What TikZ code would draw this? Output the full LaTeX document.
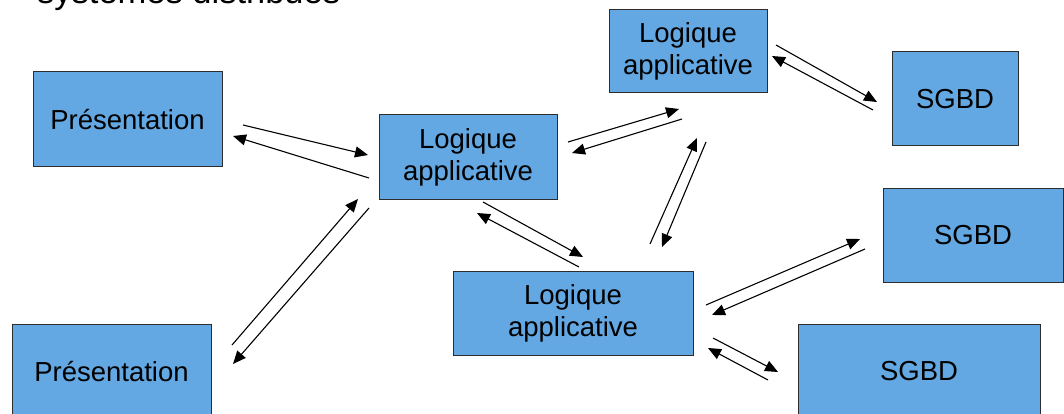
\documentclass[tikz,border=0pt]{standalone}
\usepackage{fontspec}
\setmainfont{Liberation Sans}
\usetikzlibrary{arrows.meta}
\definecolor{boxfill}{RGB}{99,168,226}
\definecolor{boxline}{RGB}{45,45,45}
\tikzset{
  tier/.style={draw=boxline, line width=1pt, fill=boxfill, inner sep=0pt, outer sep=0pt,
    align=center, font=\fontsize{27.5}{32}\selectfont},
  link/.style={line width=1.1pt, -{Triangle[length=13pt,width=11pt]}}
}
\begin{document}
\begin{tikzpicture}[x=1pt,y=-1pt]
\useasboundingbox (0,0) rectangle (1064,414);

% heading, partly above the page edge
\node[anchor=base west, inner sep=0pt, font=\fontsize{34.5}{40}\selectfont] (title) at (37,4) {systèmes distribués};

% client tier
\node[tier, minimum width=189pt, minimum height=95pt] (pres1) at (127.5,119.5) {Présentation};
\node[tier, minimum width=199pt, minimum height=95pt] (pres2) at (111.5,371.5) {Présentation};

% application tier
\node[tier, minimum width=178pt, minimum height=84pt] (app1) at (468,157) {Logique\\applicative};
\node[tier, minimum width=158pt, minimum height=83pt] (app2) at (688,51.5) {Logique\\applicative};
\node[tier, minimum width=240pt, minimum height=84pt] (app3) at (573,313) {Logique\\applicative};

% data tier
\node[tier, minimum width=126pt, minimum height=94pt] (db1) at (955,99) {SGBD};
\node[tier, minimum width=180pt, minimum height=94pt] (db2) at (973,235) {SGBD};
\node[tier, minimum width=242pt, minimum height=95pt] (db3) at (919,371.5) {SGBD};

% end points of the request / reply arrows
\coordinate (p1a1-s) at (243,125); \coordinate (p1a1-e) at (368,155);
\coordinate (a1p1-s) at (369,178); \coordinate (a1p1-e) at (233,136);

\coordinate (p2a1-s) at (232,345); \coordinate (p2a1-e) at (358,199);
\coordinate (a1p2-s) at (369,208); \coordinate (a1p2-e) at (233,364);

\coordinate (a1a2-s) at (568,142); \coordinate (a1a2-e) at (679,109);
\coordinate (a2a1-s) at (682,119); \coordinate (a2a1-e) at (572,153);

\coordinate (a3a2-s) at (650,244); \coordinate (a3a2-e) at (697,138);
\coordinate (a2a3-s) at (706,142); \coordinate (a2a3-e) at (662,247);

\coordinate (a2d1-s) at (776,45);  \coordinate (a2d1-e) at (877,102);
\coordinate (d1a2-s) at (873,110); \coordinate (d1a2-e) at (772,56);

\coordinate (a1a3-s) at (483,202); \coordinate (a1a3-e) at (583,257);
\coordinate (a3a1-s) at (579,267); \coordinate (a3a1-e) at (477,213);

\coordinate (a3d2-s) at (706,305); \coordinate (a3d2-e) at (860,239);
\coordinate (d2a3-s) at (865,249); \coordinate (d2a3-e) at (712,315);

\coordinate (a3d3-s) at (713,338); \coordinate (a3d3-e) at (778,372);
\coordinate (d3a3-s) at (768,380); \coordinate (d3a3-e) at (708,348);

% arrows
\draw[link] (p1a1-s) -- (p1a1-e);
\draw[link] (a1p1-s) -- (a1p1-e);
\draw[link] (p2a1-s) -- (p2a1-e);
\draw[link] (a1p2-s) -- (a1p2-e);
\draw[link] (a1a2-s) -- (a1a2-e);
\draw[link] (a2a1-s) -- (a2a1-e);
\draw[link] (a3a2-s) -- (a3a2-e);
\draw[link] (a2a3-s) -- (a2a3-e);
\draw[link] (a2d1-s) -- (a2d1-e);
\draw[link] (d1a2-s) -- (d1a2-e);
\draw[link] (a1a3-s) -- (a1a3-e);
\draw[link] (a3a1-s) -- (a3a1-e);
\draw[link] (a3d2-s) -- (a3d2-e);
\draw[link] (d2a3-s) -- (d2a3-e);
\draw[link] (a3d3-s) -- (a3d3-e);
\draw[link] (d3a3-s) -- (d3a3-e);
\end{tikzpicture}
\end{document}
